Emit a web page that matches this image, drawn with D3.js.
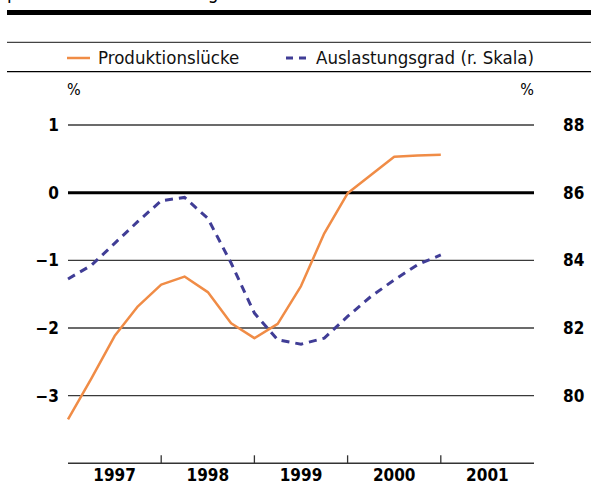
<!DOCTYPE html>
<html>
<head>
<meta charset="utf-8">
<script src="https://cdn.jsdelivr.net/npm/d3@7"></script>
<style>
  html, body { margin: 0; padding: 0; background: #fff; overflow: hidden; }
  svg { display: block; font-family: "DejaVu Sans Condensed", "DejaVu Sans", sans-serif; }
</style>
</head>
<body>
<div id="chart"></div>
<script>
// quarterly points, 1997 Q1 .. 2001 start
var periods = d3.range(17).map(function(i) { return 1997 + i / 4; });
var gap = [-3.35, -2.75, -2.12, -1.68, -1.36, -1.24, -1.47, -1.93, -2.15, -1.94, -1.38, -0.60, -0.01, 0.26, 0.53, 0.55, 0.56];
var util = [83.45, 83.85, 84.5, 85.15, 85.76, 85.86, 85.24, 83.92, 82.44, 81.65, 81.52, 81.7, 82.34, 82.93, 83.42, 83.87, 84.16];
var years = [1997, 1998, 1999, 2000, 2001];
var leftTicks = [1, 0, -1, -2, -3];
var rightTicks = [88, 86, 84, 82, 80];

var width = 591, height = 484;
var orange = "#f08c46", blue = "#403d96";

var svg = d3.select("#chart").append("svg")
  .attr("width", width).attr("height", height);

var x = d3.scaleLinear().domain([1997, 2002]).range([68, 534]);
var y = d3.scaleLinear().domain([-4, 1]).range([463.3, 125]);
var y2 = d3.scaleLinear().domain([78, 88]).range([463.3, 125]);

// heading above the thick rule, cut by the top edge
svg.append("text")
  .attr("x", 7).attr("y", -1)
  .style("font-size", "19px")
  .text("prozentuale Abweichung");

svg.append("line").attr("x1", 7).attr("x2", width).attr("y1", 12.5).attr("y2", 12.5)
  .attr("stroke", "#000").attr("stroke-width", 5);
svg.append("line").attr("x1", 7).attr("x2", width).attr("y1", 42.3).attr("y2", 42.3)
  .attr("stroke", "#444").attr("stroke-width", 1.3);
svg.append("line").attr("x1", 7).attr("x2", width).attr("y1", 71.7).attr("y2", 71.7)
  .attr("stroke", "#000").attr("stroke-width", 1.3);

// legend
var legend = svg.append("g").attr("class", "legend");
legend.append("line").attr("x1", 67).attr("x2", 90).attr("y1", 58).attr("y2", 58)
  .attr("stroke", orange).attr("stroke-width", 2.5);
legend.append("text").attr("x", 98).attr("y", 64).style("font-size", "18.5px").attr("fill", "#111")
  .text("Produktionslücke");
legend.append("line").attr("x1", 286).attr("x2", 308).attr("y1", 58).attr("y2", 58)
  .attr("stroke", blue).attr("stroke-width", 2.8).attr("stroke-dasharray", "7,6");
legend.append("text").attr("x", 316).attr("y", 64).style("font-size", "18.5px").attr("fill", "#111")
  .text("Auslastungsgrad (r. Skala)");

// unit labels
svg.append("text").attr("x", 67).attr("y", 95).style("font-size", "16px").text("%");
svg.append("text").attr("x", 534).attr("y", 95).attr("text-anchor", "end").style("font-size", "16px").text("%");

// grid
svg.append("g").selectAll("line")
  .data(leftTicks)
  .enter().append("line")
  .attr("x1", 68).attr("x2", 534)
  .attr("y1", function(d) { return y(d); })
  .attr("y2", function(d) { return y(d); })
  .attr("stroke", function(d) { return d === 0 ? "#000" : "#3a3a3a"; })
  .attr("stroke-width", function(d) { return d === 0 ? 3 : 1.3; });

svg.append("g").selectAll("text")
  .data(leftTicks)
  .enter().append("text")
  .attr("x", 59).attr("y", function(d) { return y(d) + 6; })
  .attr("text-anchor", "end")
  .style("font-size", "17px").style("font-weight", "bold")
  .text(function(d) { return d < 0 ? "\u2212" + Math.abs(d) : d; });

svg.append("g").selectAll("text")
  .data(rightTicks)
  .enter().append("text")
  .attr("x", 563).attr("y", function(d) { return y2(d) + 6; })
  .style("font-size", "17px").style("font-weight", "bold")
  .text(function(d) { return d; });

// x axis
var xAxis = svg.append("g").attr("transform", "translate(0,463.3)");
xAxis.append("line").attr("x1", 68).attr("x2", 534)
  .attr("stroke", "#333").attr("stroke-width", 1.5);
xAxis.selectAll("line.tick")
  .data(years.slice(1))
  .enter().append("line").attr("class", "tick")
  .attr("x1", function(d) { return x(d); }).attr("x2", function(d) { return x(d); })
  .attr("y1", 0).attr("y2", -8)
  .attr("stroke", "#333").attr("stroke-width", 1.3);
xAxis.selectAll("text")
  .data(years)
  .enter().append("text")
  .attr("x", function(d) { return x(d + 0.5); })
  .attr("y", 17.5)
  .attr("text-anchor", "middle")
  .style("font-size", "17px").style("font-weight", "bold")
  .text(function(d) { return d; });

// series
var gapLine = d3.line()
  .x(function(d, i) { return x(periods[i]); })
  .y(function(d) { return y(d); });
var utilLine = d3.line()
  .x(function(d, i) { return x(periods[i]); })
  .y(function(d) { return y2(d); });

svg.append("path").datum(util)
  .attr("d", utilLine)
  .attr("fill", "none").attr("stroke", blue)
  .attr("stroke-width", 3).attr("stroke-dasharray", "8,6");

svg.append("path").datum(gap)
  .attr("d", gapLine)
  .attr("fill", "none").attr("stroke", orange)
  .attr("stroke-width", 2.5).attr("stroke-linejoin", "round");
</script>
</body>
</html>
